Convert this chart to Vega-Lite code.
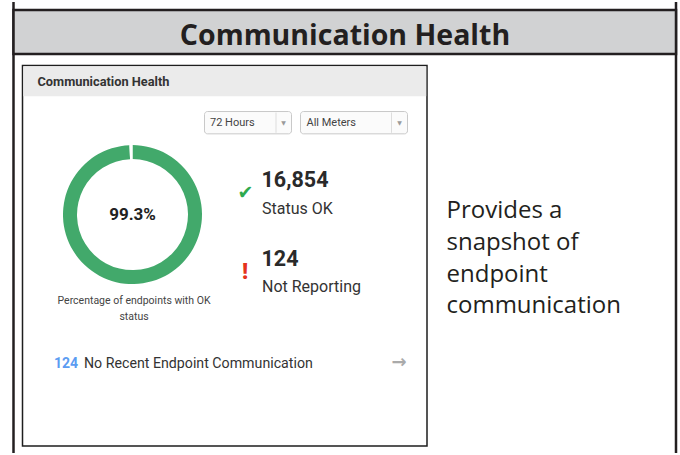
{
  "$schema": "https://vega.github.io/schema/vega-lite/v6.json",
  "width": 680,
  "height": 455,
  "autosize": {"type": "fit", "contains": "padding"},
  "padding": 0,
  "background": "#ffffff",
  "config": {"view": {"stroke": null}, "text": {"font": "Roboto"}},
  "data": {"values": [{"title": "Communication Health", "window": "72 Hours", "meters": "All Meters", "description": "Provides a\nsnapshot of\nendpoint\ncommunication", "caption": "Percentage of endpoints with OK\nstatus"}]},
  "datasets": {
    "share": [{"status": "Status OK", "share": 0.993, "rank": 1}, {"status": "Other", "share": 0.007, "rank": 2}],
    "counts": [{"status": "Status OK", "count": 16854}, {"status": "Not Reporting", "count": 124}, {"status": "No Recent Endpoint Communication", "count": 124}]
  },
  "layer": [
    {"mark": {"type": "rule", "stroke": "#231f20", "strokeWidth": 2.5},
     "encoding": {"x": {"datum": 13.5, "type": "quantitative", "scale": {"domain": [0, 680], "nice": false, "zero": false}, "axis": null},
                  "y": {"datum": 0, "type": "quantitative", "scale": {"domain": [0, 455], "nice": false, "zero": false, "reverse": true}, "axis": null}, "y2": {"datum": 455}}},
    {"mark": {"type": "rule", "stroke": "#231f20", "strokeWidth": 2.5},
     "encoding": {"x": {"datum": 676, "type": "quantitative", "scale": {"domain": [0, 680], "nice": false, "zero": false}, "axis": null},
                  "y": {"datum": 0, "type": "quantitative", "scale": {"domain": [0, 455], "nice": false, "zero": false, "reverse": true}, "axis": null}, "y2": {"datum": 455}}},
    {"mark": {"type": "rect", "fill": "#d1d2d3", "stroke": "#231f20", "strokeWidth": 2.5},
     "encoding": {"x": {"datum": 13.5, "type": "quantitative", "scale": {"domain": [0, 680], "nice": false, "zero": false}, "axis": null}, "x2": {"datum": 676},
                  "y": {"datum": 8, "type": "quantitative", "scale": {"domain": [0, 455], "nice": false, "zero": false, "reverse": true}, "axis": null}, "y2": {"datum": 52.5}}},
    {"mark": {"type": "text", "font": "Open Sans", "fontWeight": "bold", "fontSize": 28.5, "align": "center", "baseline": "alphabetic", "fill": "#231f20"},
     "encoding": {"x": {"datum": 345, "type": "quantitative", "scale": {"domain": [0, 680], "nice": false, "zero": false}, "axis": null},
                  "y": {"datum": 43.5, "type": "quantitative", "scale": {"domain": [0, 455], "nice": false, "zero": false, "reverse": true}, "axis": null},
                  "text": {"field": "title"}}},
    {"mark": {"type": "rect", "fill": "#ffffff", "stroke": "#1e1e1e", "strokeWidth": 1.5},
     "encoding": {"x": {"datum": 22.5, "type": "quantitative", "scale": {"domain": [0, 680], "nice": false, "zero": false}, "axis": null}, "x2": {"datum": 427},
                  "y": {"datum": 64, "type": "quantitative", "scale": {"domain": [0, 455], "nice": false, "zero": false, "reverse": true}, "axis": null}, "y2": {"datum": 448}}},
    {"mark": {"type": "rect", "fill": "#ebebeb"},
     "encoding": {"x": {"datum": 23.3, "type": "quantitative", "scale": {"domain": [0, 680], "nice": false, "zero": false}, "axis": null}, "x2": {"datum": 426.2},
                  "y": {"datum": 64.8, "type": "quantitative", "scale": {"domain": [0, 455], "nice": false, "zero": false, "reverse": true}, "axis": null}, "y2": {"datum": 95}}},
    {"mark": {"type": "text", "fontWeight": "bold", "fontSize": 12.8, "align": "left", "baseline": "alphabetic", "fill": "#333333"},
     "encoding": {"x": {"datum": 37.5, "type": "quantitative", "scale": {"domain": [0, 680], "nice": false, "zero": false}, "axis": null},
                  "y": {"datum": 84.5, "type": "quantitative", "scale": {"domain": [0, 455], "nice": false, "zero": false, "reverse": true}, "axis": null},
                  "text": {"field": "title"}}},
    {"mark": {"type": "rect", "fill": "#fbfbfb", "stroke": "#c9c9c9", "strokeWidth": 1, "cornerRadius": 3},
     "encoding": {"x": {"datum": 204.5, "type": "quantitative", "scale": {"domain": [0, 680], "nice": false, "zero": false}, "axis": null}, "x2": {"datum": 291.5},
                  "y": {"datum": 110.5, "type": "quantitative", "scale": {"domain": [0, 455], "nice": false, "zero": false, "reverse": true}, "axis": null}, "y2": {"datum": 133}}},
    {"mark": {"type": "rect", "fill": "#fbfbfb", "stroke": "#c9c9c9", "strokeWidth": 1, "cornerRadius": 3},
     "encoding": {"x": {"datum": 300.5, "type": "quantitative", "scale": {"domain": [0, 680], "nice": false, "zero": false}, "axis": null}, "x2": {"datum": 407.5},
                  "y": {"datum": 110.5, "type": "quantitative", "scale": {"domain": [0, 455], "nice": false, "zero": false, "reverse": true}, "axis": null}, "y2": {"datum": 133}}},
    {"mark": {"type": "rule", "stroke": "#dddddd", "strokeWidth": 1},
     "encoding": {"x": {"datum": 276, "type": "quantitative", "scale": {"domain": [0, 680], "nice": false, "zero": false}, "axis": null},
                  "y": {"datum": 111.5, "type": "quantitative", "scale": {"domain": [0, 455], "nice": false, "zero": false, "reverse": true}, "axis": null}, "y2": {"datum": 132}}},
    {"mark": {"type": "rule", "stroke": "#dddddd", "strokeWidth": 1},
     "encoding": {"x": {"datum": 391.5, "type": "quantitative", "scale": {"domain": [0, 680], "nice": false, "zero": false}, "axis": null},
                  "y": {"datum": 111.5, "type": "quantitative", "scale": {"domain": [0, 455], "nice": false, "zero": false, "reverse": true}, "axis": null}, "y2": {"datum": 132}}},
    {"mark": {"type": "text", "fontSize": 11, "align": "left", "baseline": "alphabetic", "fill": "#444444"},
     "encoding": {"x": {"datum": 210, "type": "quantitative", "scale": {"domain": [0, 680], "nice": false, "zero": false}, "axis": null},
                  "y": {"datum": 125.5, "type": "quantitative", "scale": {"domain": [0, 455], "nice": false, "zero": false, "reverse": true}, "axis": null},
                  "text": {"field": "window"}}},
    {"mark": {"type": "text", "fontSize": 11, "align": "left", "baseline": "alphabetic", "fill": "#444444"},
     "encoding": {"x": {"datum": 306.5, "type": "quantitative", "scale": {"domain": [0, 680], "nice": false, "zero": false}, "axis": null},
                  "y": {"datum": 125.5, "type": "quantitative", "scale": {"domain": [0, 455], "nice": false, "zero": false, "reverse": true}, "axis": null},
                  "text": {"field": "meters"}}},
    {"mark": {"type": "text", "font": "DejaVu Sans", "fontSize": 6, "align": "center", "baseline": "middle", "fill": "#9a9a9a", "text": "▼"},
     "encoding": {"x": {"datum": 283.5, "type": "quantitative", "scale": {"domain": [0, 680], "nice": false, "zero": false}, "axis": null},
                  "y": {"datum": 122.5, "type": "quantitative", "scale": {"domain": [0, 455], "nice": false, "zero": false, "reverse": true}, "axis": null}}},
    {"mark": {"type": "text", "font": "DejaVu Sans", "fontSize": 6, "align": "center", "baseline": "middle", "fill": "#9a9a9a", "text": "▼"},
     "encoding": {"x": {"datum": 399.5, "type": "quantitative", "scale": {"domain": [0, 680], "nice": false, "zero": false}, "axis": null},
                  "y": {"datum": 122.5, "type": "quantitative", "scale": {"domain": [0, 455], "nice": false, "zero": false, "reverse": true}, "axis": null}}},
    {"data": {"name": "share"},
     "mark": {"type": "arc", "innerRadius": 55.5, "outerRadius": 69.5, "strokeWidth": 0},
     "encoding": {"x": {"datum": 132.5, "type": "quantitative", "scale": {"domain": [0, 680], "nice": false, "zero": false}, "axis": null},
                  "y": {"datum": 214.5, "type": "quantitative", "scale": {"domain": [0, 455], "nice": false, "zero": false, "reverse": true}, "axis": null},
                  "theta": {"field": "share", "type": "quantitative", "stack": true},
                  "order": {"field": "rank", "type": "quantitative"},
                  "color": {"field": "status", "type": "nominal", "scale": {"domain": ["Status OK", "Other"], "range": ["#42a96b", "#ffffff"]}, "legend": null}}},
    {"data": {"name": "share"},
     "transform": [{"filter": "datum.status === 'Status OK'"}],
     "mark": {"type": "text", "fontWeight": "bold", "fontSize": 17, "align": "center", "baseline": "alphabetic", "fill": "#222222"},
     "encoding": {"x": {"datum": 132.5, "type": "quantitative", "scale": {"domain": [0, 680], "nice": false, "zero": false}, "axis": null},
                  "y": {"datum": 220, "type": "quantitative", "scale": {"domain": [0, 455], "nice": false, "zero": false, "reverse": true}, "axis": null},
                  "text": {"field": "share", "type": "quantitative", "format": ".1%"}}},
    {"mark": {"type": "text", "fontSize": 10.5, "align": "center", "baseline": "alphabetic", "fill": "#444444", "lineBreak": "\n", "lineHeight": 16},
     "encoding": {"x": {"datum": 134, "type": "quantitative", "scale": {"domain": [0, 680], "nice": false, "zero": false}, "axis": null},
                  "y": {"datum": 304.5, "type": "quantitative", "scale": {"domain": [0, 455], "nice": false, "zero": false, "reverse": true}, "axis": null},
                  "text": {"field": "caption"}}},
    {"mark": {"type": "text", "font": "DejaVu Sans", "fontSize": 19, "align": "center", "baseline": "middle", "fill": "#2eaa4f", "text": "✔"},
     "encoding": {"x": {"datum": 245.5, "type": "quantitative", "scale": {"domain": [0, 680], "nice": false, "zero": false}, "axis": null},
                  "y": {"datum": 192.5, "type": "quantitative", "scale": {"domain": [0, 455], "nice": false, "zero": false, "reverse": true}, "axis": null}}},
    {"data": {"name": "counts"},
     "transform": [{"filter": "datum.status === 'Status OK'"}],
     "mark": {"type": "text", "fontWeight": "bold", "fontSize": 21.5, "align": "left", "baseline": "alphabetic", "fill": "#2a2a2a"},
     "encoding": {"x": {"datum": 261.5, "type": "quantitative", "scale": {"domain": [0, 680], "nice": false, "zero": false}, "axis": null},
                  "y": {"datum": 187, "type": "quantitative", "scale": {"domain": [0, 455], "nice": false, "zero": false, "reverse": true}, "axis": null},
                  "text": {"field": "count", "type": "quantitative", "format": ","}}},
    {"data": {"name": "counts"},
     "transform": [{"filter": "datum.status === 'Status OK'"}],
     "mark": {"type": "text", "fontSize": 16, "align": "left", "baseline": "alphabetic", "fill": "#333333"},
     "encoding": {"x": {"datum": 262, "type": "quantitative", "scale": {"domain": [0, 680], "nice": false, "zero": false}, "axis": null},
                  "y": {"datum": 213.5, "type": "quantitative", "scale": {"domain": [0, 455], "nice": false, "zero": false, "reverse": true}, "axis": null},
                  "text": {"field": "status"}}},
    {"mark": {"type": "text", "fontWeight": 900, "fontSize": 22, "align": "center", "baseline": "alphabetic", "fill": "#e5331c", "text": "!"},
     "encoding": {"x": {"datum": 245, "type": "quantitative", "scale": {"domain": [0, 680], "nice": false, "zero": false}, "axis": null},
                  "y": {"datum": 279, "type": "quantitative", "scale": {"domain": [0, 455], "nice": false, "zero": false, "reverse": true}, "axis": null}}},
    {"data": {"name": "counts"},
     "transform": [{"filter": "datum.status === 'Not Reporting'"}],
     "mark": {"type": "text", "fontWeight": "bold", "fontSize": 21.5, "align": "left", "baseline": "alphabetic", "fill": "#2a2a2a"},
     "encoding": {"x": {"datum": 261.5, "type": "quantitative", "scale": {"domain": [0, 680], "nice": false, "zero": false}, "axis": null},
                  "y": {"datum": 266.5, "type": "quantitative", "scale": {"domain": [0, 455], "nice": false, "zero": false, "reverse": true}, "axis": null},
                  "text": {"field": "count", "type": "quantitative", "format": ","}}},
    {"data": {"name": "counts"},
     "transform": [{"filter": "datum.status === 'Not Reporting'"}],
     "mark": {"type": "text", "fontSize": 16, "align": "left", "baseline": "alphabetic", "fill": "#333333"},
     "encoding": {"x": {"datum": 262, "type": "quantitative", "scale": {"domain": [0, 680], "nice": false, "zero": false}, "axis": null},
                  "y": {"datum": 292.5, "type": "quantitative", "scale": {"domain": [0, 455], "nice": false, "zero": false, "reverse": true}, "axis": null},
                  "text": {"field": "status"}}},
    {"data": {"name": "counts"},
     "transform": [{"filter": "datum.status === 'No Recent Endpoint Communication'"}],
     "mark": {"type": "text", "fontWeight": "bold", "fontSize": 14, "align": "left", "baseline": "alphabetic", "fill": "#5b9cf2"},
     "encoding": {"x": {"datum": 54, "type": "quantitative", "scale": {"domain": [0, 680], "nice": false, "zero": false}, "axis": null},
                  "y": {"datum": 369.3, "type": "quantitative", "scale": {"domain": [0, 455], "nice": false, "zero": false, "reverse": true}, "axis": null},
                  "text": {"field": "count", "type": "quantitative", "format": ","}}},
    {"data": {"name": "counts"},
     "transform": [{"filter": "datum.status === 'No Recent Endpoint Communication'"}],
     "mark": {"type": "text", "fontSize": 14.2, "align": "left", "baseline": "alphabetic", "fill": "#333333"},
     "encoding": {"x": {"datum": 84, "type": "quantitative", "scale": {"domain": [0, 680], "nice": false, "zero": false}, "axis": null},
                  "y": {"datum": 369.3, "type": "quantitative", "scale": {"domain": [0, 455], "nice": false, "zero": false, "reverse": true}, "axis": null},
                  "text": {"field": "status"}}},
    {"mark": {"type": "text", "font": "DejaVu Sans", "fontWeight": "bold", "fontSize": 18, "align": "center", "baseline": "middle", "fill": "#aaaaaa", "text": "→"},
     "encoding": {"x": {"datum": 399, "type": "quantitative", "scale": {"domain": [0, 680], "nice": false, "zero": false}, "axis": null},
                  "y": {"datum": 364.5, "type": "quantitative", "scale": {"domain": [0, 455], "nice": false, "zero": false, "reverse": true}, "axis": null}}},
    {"mark": {"type": "text", "font": "Open Sans", "fontSize": 24, "align": "left", "baseline": "alphabetic", "fill": "#231f20", "lineBreak": "\n", "lineHeight": 31.6},
     "encoding": {"x": {"datum": 446.5, "type": "quantitative", "scale": {"domain": [0, 680], "nice": false, "zero": false}, "axis": null},
                  "y": {"datum": 218.3, "type": "quantitative", "scale": {"domain": [0, 455], "nice": false, "zero": false, "reverse": true}, "axis": null},
                  "text": {"field": "description"}}}
  ]
}
